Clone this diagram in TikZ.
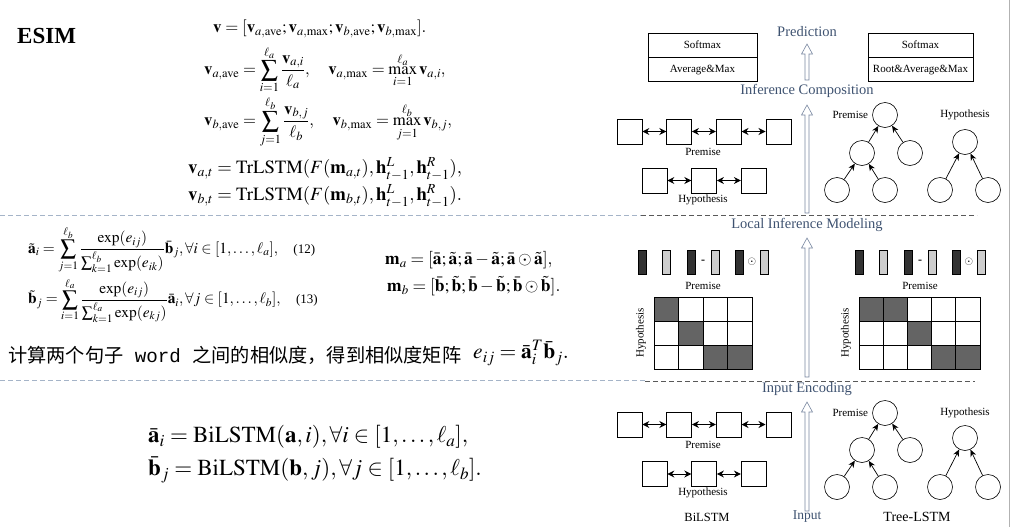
\documentclass[tikz,border=0pt]{standalone}
\usepackage{amsmath}
\usepackage{mathptmx}
\usepackage[no-math]{fontspec}
\setmainfont{Liberation Serif}
\setmonofont{Liberation Mono}
\newfontfamily\cjk{Noto Sans CJK SC}
\usetikzlibrary{positioning, arrows.meta, calc}
\definecolor{etapa}{RGB}{62,82,112}
\definecolor{hueco}{RGB}{120,135,160}
\definecolor{guia}{RGB}{165,180,200}
\definecolor{celda}{RGB}{100,100,100}
\definecolor{barra}{RGB}{50,50,50}
\definecolor{clara}{RGB}{205,205,205}
\tikzset{
  formula/.style={anchor=west, inner sep=0pt},
  stage/.style={font=\fontsize{14.5}{16}\selectfont, text=etapa, inner sep=0pt},
  small/.style={font=\fontsize{11}{12}\selectfont, inner sep=0pt},
  layerbox/.style={rectangle, draw, line width=0.6pt, minimum height=24pt, inner sep=0pt, font=\fontsize{11}{12}\selectfont},
  unit/.style={rectangle, draw, line width=0.6pt, minimum size=25pt, inner sep=0pt},
  leaf/.style={circle, draw, line width=0.6pt, minimum size=25pt, inner sep=0pt},
  link/.style={{Stealth[length=7pt,width=7pt]}-{Stealth[length=7pt,width=7pt]}, line width=1pt},
  child/.style={-{Stealth[length=7pt,width=6pt]}, line width=0.7pt},
  hollow/.style={draw=hueco, fill=white, line width=0.6pt},
  guide/.style={dash pattern=on 5pt off 3pt, line width=0.7pt}
}
% flecha hueca vertical: cola, punta
\newcommand{\hollowarrow}[2]{%
  \draw[hollow] ($(#1)+(-2,0)$) -- ($(#2)+(-2,10)$) -- ($(#2)+(-5.5,10)$) -- (#2)
    -- ($(#2)+(5.5,10)$) -- ($(#2)+(2,10)$) -- ($(#1)+(2,0)$) -- cycle;}

\begin{document}
\begin{tikzpicture}[x=1pt, y=-1pt]
    \useasboundingbox (0,0) rectangle (1011,530);

    % Titulo
    \node[formula, font=\bfseries\fontsize{23}{25}\selectfont] (esim) at (17,36) {ESIM};

    % ---------------- Pooling y composicion ----------------
    \node[formula, font=\fontsize{16.8}{18}\selectfont] (pool_v) at (213,29)
        {$\mathbf{v}=[\mathbf{v}_{a,\mathrm{ave}};\mathbf{v}_{a,\max};\mathbf{v}_{b,\mathrm{ave}};\mathbf{v}_{b,\max}].$};
    \node[formula, font=\fontsize{16.7}{18}\selectfont] (pool_a) at (204,70)
        {$\displaystyle\mathbf{v}_{a,\mathrm{ave}}=\sum_{i=1}^{\ell_a}\frac{\mathbf{v}_{a,i}}{\ell_a},\quad
          \mathbf{v}_{a,\max}=\max_{i=1}^{\ell_a}\mathbf{v}_{a,i},$};
    \node[formula, font=\fontsize{16.7}{18}\selectfont] (pool_b) at (204,122)
        {$\displaystyle\mathbf{v}_{b,\mathrm{ave}}=\sum_{j=1}^{\ell_b}\frac{\mathbf{v}_{b,j}}{\ell_b},\quad
          \mathbf{v}_{b,\max}=\max_{j=1}^{\ell_b}\mathbf{v}_{b,j},$};
    \node[formula, font=\fontsize{18.7}{20}\selectfont] (trlstm_a) at (188,169)
        {$\mathbf{v}_{a,t}=\mathrm{TrLSTM}(F(\mathbf{m}_{a,t}),\mathbf{h}^L_{t-1},\mathbf{h}^R_{t-1}),$};
    \node[formula, font=\fontsize{18.7}{20}\selectfont] (trlstm_b) at (188,196)
        {$\mathbf{v}_{b,t}=\mathrm{TrLSTM}(F(\mathbf{m}_{b,t}),\mathbf{h}^L_{t-1},\mathbf{h}^R_{t-1}).$};

    % ---------------- Atencion suave ----------------
    \node[formula, font=\fontsize{15.4}{18}\selectfont] (att_a) at (28,250)
        {$\displaystyle\tilde{\mathbf{a}}_i=\sum_{j=1}^{\ell_b}\frac{\exp(e_{ij})}{\sum_{k=1}^{\ell_b}\exp(e_{ik})}\bar{\mathbf{b}}_j,\forall i\in[1,\ldots,\ell_a],$\quad{\fontsize{13}{14}\selectfont(12)}};
    \node[formula, font=\fontsize{15.4}{18}\selectfont] (att_b) at (28,300)
        {$\displaystyle\tilde{\mathbf{b}}_j=\sum_{i=1}^{\ell_a}\frac{\exp(e_{ij})}{\sum_{k=1}^{\ell_a}\exp(e_{kj})}\bar{\mathbf{a}}_i,\forall j\in[1,\ldots,\ell_b],$\quad{\fontsize{13}{14}\selectfont(13)}};
    \node[formula, font=\fontsize{17.5}{19}\selectfont] (enh_a) at (385,260)
        {$\mathbf{m}_a=[\bar{\mathbf{a}};\tilde{\mathbf{a}};\bar{\mathbf{a}}-\tilde{\mathbf{a}};\bar{\mathbf{a}}\odot\tilde{\mathbf{a}}],$};
    \node[formula, font=\fontsize{17.5}{19}\selectfont] (enh_b) at (387,286)
        {$\mathbf{m}_b=[\bar{\mathbf{b}};\tilde{\mathbf{b}};\bar{\mathbf{b}}-\tilde{\mathbf{b}};\bar{\mathbf{b}}\odot\tilde{\mathbf{b}}].$};

    % Similitud
    \node[formula, font=\fontsize{19.2}{21}\selectfont] (sim_text) at (8,355)
        {{\cjk 计算两个句子}{\ttfamily\ word\ }{\cjk 之间的相似度，得到相似度矩阵}};
    \node[formula, font=\fontsize{21.5}{23}\selectfont] (sim_eq) at (473,353)
        {$e_{ij}=\bar{\mathbf{a}}_i^T\bar{\mathbf{b}}_j.$};

    % ---------------- Codificacion ----------------
    \node[formula, font=\fontsize{23}{25}\selectfont] (enc_a) at (148,437)
        {$\bar{\mathbf{a}}_i=\mathrm{BiLSTM}(\mathbf{a},i),\forall i\in[1,\ldots,\ell_a],$};
    \node[formula, font=\fontsize{23}{25}\selectfont] (enc_b) at (148,470)
        {$\bar{\mathbf{b}}_j=\mathrm{BiLSTM}(\mathbf{b},j),\forall j\in[1,\ldots,\ell_b].$};

    % Separadores
    \draw[guide, draw=guia] (0,215) -- (641,215);
    \draw[guide, draw=black!65] (641,215) -- (977,215);
    \draw[guide, draw=guia] (0,380) -- (645,380);
    \draw[guide, draw=black!65] (645,381) -- (975,381);
    \draw[black!30, line width=0.8pt] (1009,0) -- (1009,527);

    % ================= ETAPAS =================
    \node[stage] (pred) at (807,32) {Prediction};
    \node[stage] (infcomp) at (807,91) {Inference Composition};
    \node[stage] (localinf) at (807,225) {Local Inference Modeling};
    \node[stage] (inputenc) at (807,389) {Input Encoding};
    \node[stage, font=\fontsize{13.5}{15}\selectfont] (input) at (807,517) {Input};

    \coordinate (a1_tail) at (807,80);   \coordinate (a1_tip) at (807,44);
    \coordinate (a2_tail) at (807,213);  \coordinate (a2_tip) at (807,105);
    \coordinate (a3_tail) at (807,377);  \coordinate (a3_tip) at (807,238);
    \coordinate (a4_tail) at (807,511);  \coordinate (a4_tip) at (807,402);
    \hollowarrow{a1_tail}{a1_tip}
    \hollowarrow{a2_tail}{a2_tip}
    \hollowarrow{a3_tail}{a3_tip}
    \hollowarrow{a4_tail}{a4_tip}

    % Capas de salida
    \node[layerbox, minimum width=109pt] (soft_l) at (702.5,45) {Softmax};
    \node[layerbox, minimum width=109pt, below=0pt of soft_l] (pool_l) {Average\&Max};
    \node[layerbox, minimum width=105pt] (soft_r) at (920.5,45) {Softmax};
    \node[layerbox, minimum width=105pt, below=0pt of soft_r] (pool_r) {Root\&Average\&Max};

    % ---------------- BiLSTM (composicion) ----------------
    \node[unit] (cp1) at (629.5,131.5) {};
    \node[unit, right=24pt of cp1] (cp2) {};
    \node[unit, right=24pt of cp2] (cp3) {};
    \node[unit, right=24pt of cp3] (cp4) {};
    \node[small] (cp_lbl) at (703,152) {Premise};
    \node[unit] (ch1) at (654.5,180.5) {};
    \node[unit, right=24pt of ch1] (ch2) {};
    \node[unit, right=24pt of ch2] (ch3) {};
    \node[small] (ch_lbl) at (703,200) {Hypothesis};
    \draw[link] (cp1) -- (cp2);
    \draw[link] (cp2) -- (cp3);
    \draw[link] (cp3) -- (cp4);
    \draw[link] (ch1) -- (ch2);
    \draw[link] (ch2) -- (ch3);

    % ---------------- Tree-LSTM (composicion) ----------------
    \node[leaf] (ctp_root) at (885,115) {};
    \node[leaf] (ctp_l) at (862,153) {};
    \node[leaf] (ctp_r) at (910,153) {};
    \node[leaf] (ctp_ll) at (837,190) {};
    \node[leaf] (ctp_lr) at (885,190) {};
    \node[small, left=4pt of ctp_root] (ctp_lbl) {Premise};
    \node[small] (cth_lbl) at (965,115) {Hypothesis};
    \node[leaf] (cth_root) at (965,142) {};
    \node[leaf] (cth_l) at (940,190) {};
    \node[leaf] (cth_r) at (988,190) {};
    \draw[child] (ctp_l) -- (ctp_root);
    \draw[child] (ctp_r) -- (ctp_root);
    \draw[child] (ctp_ll) -- (ctp_l);
    \draw[child] (ctp_lr) -- (ctp_l);
    \draw[child] (cth_l) -- (cth_root);
    \draw[child] (cth_r) -- (cth_root);

    % ---------------- Inferencia local ----------------
    \foreach \x in {642,691,739.5,859,908,956.5}
        \draw[fill=barra, line width=0.6pt] (\x-4,250) rectangle (\x+4,274);
    \foreach \x in {666,715,764,883,932,981}
        \draw[fill=clara, line width=0.6pt] (\x-4,250) rectangle (\x+4,274);
    \node[font=\bfseries\fontsize{12}{12}\selectfont] (minus_l) at (703,262) {-};
    \node[font=\fontsize{11}{12}\selectfont] (odot_l) at (752,262) {$\odot$};
    \node[font=\bfseries\fontsize{12}{12}\selectfont] (minus_r) at (920,262) {-};
    \node[font=\fontsize{11}{12}\selectfont] (odot_r) at (969,262) {$\odot$};
    \node[small] (mp_l) at (703,286) {Premise};
    \node[small] (mp_r) at (920,286) {Premise};
    \node[small, rotate=90] (mh_l) at (641,333) {Hypothesis};
    \node[small, rotate=90] (mh_r) at (846,333) {Hypothesis};

    % Matriz de alineamiento (BiLSTM)
    \foreach \c/\r in {0/0,1/1,2/2,3/2}
        \fill[celda] (654+24.5*\c,297+24*\r) rectangle ++(24.5,24);
    \foreach \c in {0,...,3}
        \foreach \r in {0,...,2}
            \draw[line width=0.8pt] (654+24.5*\c,297+24*\r) rectangle ++(24.5,24);

    % Matriz de alineamiento (Tree-LSTM)
    \foreach \c/\r in {0/0,1/0,2/1,3/2,4/2}
        \fill[celda] (859+24.2*\c,297+24*\r) rectangle ++(24.2,24);
    \foreach \c in {0,...,4}
        \foreach \r in {0,...,2}
            \draw[line width=0.8pt] (859+24.2*\c,297+24*\r) rectangle ++(24.2,24);

    % ---------------- BiLSTM (codificacion) ----------------
    \node[unit] (ep1) at (629.5,424.5) {};
    \node[unit, right=24pt of ep1] (ep2) {};
    \node[unit, right=24pt of ep2] (ep3) {};
    \node[unit, right=24pt of ep3] (ep4) {};
    \node[small] (ep_lbl) at (703,445) {Premise};
    \node[unit] (eh1) at (654.5,474) {};
    \node[unit, right=24pt of eh1] (eh2) {};
    \node[unit, right=24pt of eh2] (eh3) {};
    \node[small] (eh_lbl) at (703,493) {Hypothesis};
    \draw[link] (ep1) -- (ep2);
    \draw[link] (ep2) -- (ep3);
    \draw[link] (ep3) -- (ep4);
    \draw[link] (eh1) -- (eh2);
    \draw[link] (eh2) -- (eh3);

    % ---------------- Tree-LSTM (codificacion) ----------------
    \node[leaf] (etp_root) at (885,413) {};
    \node[leaf] (etp_l) at (862,450) {};
    \node[leaf] (etp_r) at (910,450) {};
    \node[leaf] (etp_ll) at (837,487) {};
    \node[leaf] (etp_lr) at (885,487) {};
    \node[small, left=4pt of etp_root] (etp_lbl) {Premise};
    \node[small] (eth_lbl) at (965,413) {Hypothesis};
    \node[leaf] (eth_root) at (965,438) {};
    \node[leaf] (eth_l) at (940,487) {};
    \node[leaf] (eth_r) at (988,487) {};
    \draw[child] (etp_l) -- (etp_root);
    \draw[child] (etp_r) -- (etp_root);
    \draw[child] (etp_ll) -- (etp_l);
    \draw[child] (etp_lr) -- (etp_l);
    \draw[child] (eth_l) -- (eth_root);
    \draw[child] (eth_r) -- (eth_root);

    % Nombres de los modelos
    \node[font=\fontsize{12.5}{14}\selectfont] (bilstm) at (707,517) {BiLSTM};
    \node[font=\fontsize{14}{16}\selectfont] (treelstm) at (917,517) {Tree-LSTM};

\end{tikzpicture}
\end{document}
